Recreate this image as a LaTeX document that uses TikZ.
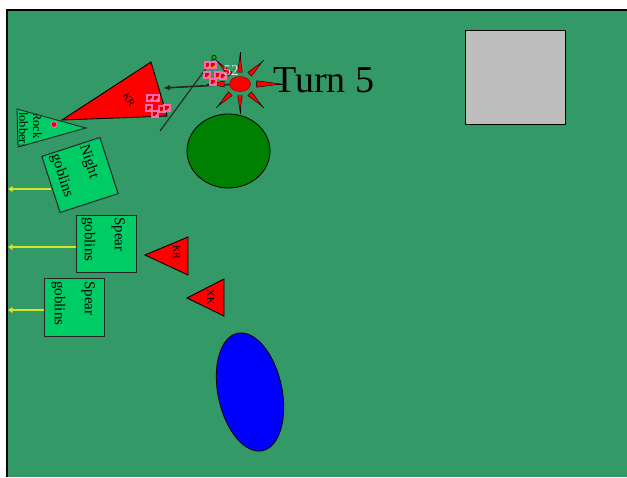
\documentclass[tikz,border=0pt]{standalone}
\usepackage{fontspec}
\setmainfont{Liberation Serif}
\usetikzlibrary{arrows.meta,shapes.geometric}
\definecolor{field}{RGB}{51,153,102}
\definecolor{unitg}{RGB}{0,204,102}
\definecolor{dkg}{RGB}{0,128,0}
\definecolor{yl}{RGB}{210,230,40}
\definecolor{pinkc}{RGB}{255,105,180}
\definecolor{graybox}{RGB}{190,190,190}
\definecolor{pale}{RGB}{225,225,225}
\begin{document}
\begin{tikzpicture}[x=1pt,y=-1pt,
  unitbox/.style={draw=black!85,fill=unitg,line width=1pt,inner sep=0pt,minimum width=60pt,minimum height=57pt},
  utext/.style={rotate=-90,anchor=north west,align=left,inner sep=0pt,font=\fontsize{15}{30}\selectfont},
  yline/.style={draw=yl,line width=1.3pt,-{Triangle[length=4.5pt,width=5.5pt]}},
  redtri/.style={fill=red,draw=black,line width=0.9pt},
  tlabel/.style={inner sep=0pt,font=\fontsize{10}{10}\selectfont},
  icon/.pic={
    \fill[pinkc] (-3.8,-3.6) rectangle (3.8,3.6);
    \fill[red!85!black] (-2.4,-2.3) rectangle (2.4,2.3);
    \fill[yellow] (1.2,1.2) circle (0.8);
  }]
\useasboundingbox (0,0) rectangle (627,477);
\fill[white] (0,0) rectangle (627,477);
\fill[field] (7,10) rectangle (627,477);
\draw[black,line width=1.2pt] (7,477) -- (7,10) -- (627,10);

% fort
\node[draw=black,fill=graybox,line width=1pt,minimum width=100pt,minimum height=94pt,inner sep=0pt] (fort) at (515,77) {};

% hill and lake
\node[ellipse,draw=black,fill=dkg,line width=0.8pt,minimum width=83pt,minimum height=74pt,inner sep=0pt] (hill) at (228.5,151) {};
\node[ellipse,draw=black,fill=blue,line width=0.8pt,minimum width=64pt,minimum height=120pt,rotate=12,inner sep=0pt] (lake) at (250,392) {};

% big red triangle
\coordinate (bt1) at (62,120);
\coordinate (bt2) at (151,62);
\coordinate (bt3) at (167,116);
\draw[redtri] (bt1) -- (bt2) -- (bt3) -- cycle;
\node[tlabel,rotate=-60] (btl) at (129,100) {KR};

% small red triangles
\coordinate (ta1) at (145,255);
\coordinate (ta2) at (188,237);
\coordinate (ta3) at (188,275);
\draw[redtri] (ta1) -- (ta2) -- (ta3) -- cycle;
\node[tlabel,rotate=-90] (tal) at (177,252) {KR};
\coordinate (tb1) at (187,298);
\coordinate (tb2) at (224,279);
\coordinate (tb3) at (224,316);
\draw[redtri] (tb1) -- (tb2) -- (tb3) -- cycle;
\node[tlabel,rotate=-90] (tbl) at (211,297) {XK};

% rock lobbers
\coordinate (rl1) at (17,109);
\coordinate (rl2) at (18,147);
\coordinate (rl3) at (86,128);
\draw[fill=unitg,draw=black!85,line width=0.9pt] (rl1) -- (rl2) -- (rl3) -- cycle;
\begin{scope}
  \clip (rl1) -- (rl2) -- (rl3) -- cycle;
  \node[rotate=-90,anchor=north west,align=left,inner sep=0pt,font=\fontsize{12.5}{14}\selectfont] (rlt) at (42,112) {Rock\\lobbers};
\end{scope}
\node[circle,fill=red!85!black,draw=pinkc,line width=1pt,minimum size=6pt,inner sep=0pt] (rld) at (54,124.5) {};

% night goblins
\node[unitbox,minimum width=61pt,minimum height=59pt,rotate=18] (ng) at (80,175) {};
\node[utext,rotate=18] (ngt) at (90,143) {Night\\goblins};
\coordinate (nga) at (8,189);
\draw[yline] (ng.west |- nga) -- (nga);

% spear goblins
\node[unitbox] (sg1) at (106.5,243.5) {};
\node[utext] (sg1t) at (125,217) {Spear\\goblins};
\coordinate (sg1a) at (8,247);
\draw[yline] (sg1.west |- sg1a) -- (sg1a);

\node[unitbox,minimum height=58pt] (sg2) at (74,307) {};
\node[utext] (sg2t) at (95,281) {Spear\\goblins};
\coordinate (sg2a) at (8,310);
\draw[yline] (sg2.west |- sg2a) -- (sg2a);

% thin line with green spot
\node[circle,fill=green!70!black,draw=black,line width=0.5pt,minimum size=4.5pt,inner sep=0pt] (spot) at (214,57.5) {};
\coordinate (ls) at (160,131);
\draw[black!85,line width=1.1pt] (ls) -- (spot);

% attack arrow
\coordinate (sunc) at (240,84);
\coordinate (hit) at (163,88);
\draw[black!85,line width=1.6pt,-{Latex[length=7pt,width=5.5pt]}] (sunc) -- (hit);

% sun rays
\begin{scope}[shift={(sunc)}]
  \foreach \a/\ra/\rb in {0/17/44,180/16/33,90/12/30,270/12/32,45/14/34,135/14/34,225/14/34,315/14/34}{
    \draw[black,line width=0.7pt] (\a:\ra) -- (\a:\rb);
    \filldraw[fill=red,draw=black,line width=0.4pt] (\a+11:\ra) -- (\a:\rb-3) -- (\a-11:\ra) -- cycle;
  }
\end{scope}
\node[ellipse,fill=red,draw=red!60!black,line width=0.5pt,minimum width=21pt,minimum height=15pt,inner sep=0pt] (sun) at (sunc) {};

% unit icons
\foreach \p in {(150,98),(156,98),(149,108),(162,109),(155,114),(167,108)}{
  \pic at \p {icon};
}
\foreach \p in {(208,65),(213,65),(207,75),(218,75),(223,76),(213,82)}{
  \pic at \p {icon};
}
\node[text=pale,inner sep=0pt,font=\fontsize{15}{15}\selectfont] (num) at (231,71) {52};

% title
\node[anchor=base west,inner sep=0pt,font=\fontsize{38}{40}\selectfont] (turn) at (273,92) {Turn 5};
\end{tikzpicture}
\end{document}
